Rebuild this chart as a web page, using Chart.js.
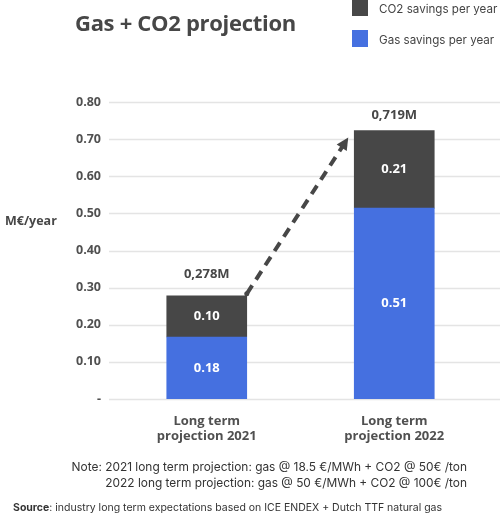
<!DOCTYPE html>
<html>
<head>
<meta charset="utf-8">
<script src="https://cdn.jsdelivr.net/npm/chart.js@4.4.0/dist/chart.umd.min.js"></script>
<style>
  body { margin: 0; background: #fff; }
  #wrap { position: relative; width: 500px; height: 516px; overflow: hidden; font-family: Inter, sans-serif; }
  #chart { position: absolute; left: 0; top: 0; }
  .title { position: absolute; left: 75px; top: 7px; font-family: "Open Sans", sans-serif; font-weight: 700; font-size: 22px; color: #474747; letter-spacing: -0.3px; white-space: nowrap; }
  .leg { position: absolute; left: 352px; width: 16px; height: 17px; }
  .legtxt { position: absolute; left: 379px; font-size: 11.6px; color: #444; white-space: nowrap; line-height: 16px; }
  .ytitle { position: absolute; left: 5px; top: 212px; font-family: "Open Sans", sans-serif; font-weight: 700; font-size: 12.5px; color: #474747; }
  .note { position: absolute; right: 33px; top: 459px; font-size: 11.9px; color: #333; text-align: right; line-height: 16px; white-space: nowrap; }
  .source { position: absolute; left: 13px; top: 501px; font-size: 10.5px; color: #333; white-space: nowrap; }
</style>
</head>
<body>
<div id="wrap">
  <canvas id="chart" width="500" height="516"></canvas>
  <div class="title">Gas + CO2 projection</div>
  <div class="leg" style="top:-1px;background:#474747"></div>
  <div class="legtxt" style="top:1px">CO2 savings per year</div>
  <div class="leg" style="top:30px;background:#4570e0"></div>
  <div class="legtxt" style="top:32px">Gas savings per year</div>
  <div class="ytitle">M€/year</div>
  <div class="note">Note: 2021 long term projection: gas @ 18.5 €/MWh + CO2 @ 50€ /ton<br>2022 long term projection: gas @ 50 €/MWh + CO2 @ 100€ /ton</div>
  <div class="source"><b>Source</b>: industry long term expectations based on ICE ENDEX + Dutch TTF natural gas</div>
</div>
<script>
// data
const categories = [["Long term", "projection 2021"], ["Long term", "projection 2022"]];
const gasValues = [0.167, 0.514];
const co2Values = [0.111, 0.209];
const gasLabels = ["0.18", "0.51"];
const co2Labels = ["0.10", "0.21"];
const totalLabels = ["0,278M", "0,719M"];
const yTicks = [0, 0.1, 0.2, 0.3, 0.4, 0.5, 0.6, 0.7, 0.8];

const BLUE = "#4570e0";
const DARK = "#474747";

// gridlines run from the tick mark to the right edge of the canvas
const gridPlugin = {
    id: "gridLines",
    beforeDatasetsDraw(chart) {
        const ctx = chart.ctx;
        const y = chart.scales.y;
        ctx.save();
        ctx.strokeStyle = "#e4e4e4";
        ctx.lineWidth = 1.5;
        yTicks.forEach(function (v) {
            const py = Math.round(y.getPixelForValue(v)) + 0.5;
            ctx.beginPath();
            ctx.moveTo(chart.chartArea.left - 4, py);
            ctx.lineTo(chart.width, py);
            ctx.stroke();
        });
        ctx.restore();
    }
};

// value labels + dashed arrow
const labelPlugin = {
    id: "barLabels",
    afterDatasetsDraw(chart) {
        const ctx = chart.ctx;
        const gasBars = chart.getDatasetMeta(0).data;
        const co2Bars = chart.getDatasetMeta(1).data;
        ctx.save();
        ctx.textAlign = "center";
        ctx.textBaseline = "middle";
        ctx.font = "700 13px 'Open Sans', sans-serif";
        ctx.fillStyle = "#fff";
        gasBars.forEach(function (b, i) {
            ctx.fillText(gasLabels[i], b.x, (b.y + b.base) / 2);
        });
        co2Bars.forEach(function (b, i) {
            ctx.fillText(co2Labels[i], b.x, (b.y + b.base) / 2);
        });
        const offs = [21, 15];
        ctx.fillStyle = DARK;
        co2Bars.forEach(function (b, i) {
            ctx.fillText(totalLabels[i], b.x, b.y - offs[i]);
        });

        // arrow from top-right of first bar to top-left of second
        const a = co2Bars[0], c = co2Bars[1];
        const x1 = a.x + a.width / 2, y1 = a.y - 2;
        const x2 = c.x - c.width / 2 - 6, y2 = c.y + 7;
        ctx.fillStyle = DARK;
        ctx.beginPath();
        ctx.arc(x1, y1, 2.5, 0, Math.PI * 2);
        ctx.fill();
        const ang = Math.atan2(y2 - y1, x2 - x1);
        ctx.strokeStyle = DARK;
        ctx.lineWidth = 4;
        ctx.setLineDash([10, 7]);
        ctx.beginPath();
        ctx.moveTo(x1, y1);
        ctx.lineTo(x2 - 8 * Math.cos(ang), y2 - 8 * Math.sin(ang));
        ctx.stroke();
        ctx.setLineDash([]);
        ctx.beginPath();
        ctx.moveTo(x2, y2);
        ctx.lineTo(x2 - 12 * Math.cos(ang) + 6 * Math.sin(ang), y2 - 12 * Math.sin(ang) - 6 * Math.cos(ang));
        ctx.lineTo(x2 - 12 * Math.cos(ang) - 6 * Math.sin(ang), y2 - 12 * Math.sin(ang) + 6 * Math.cos(ang));
        ctx.closePath();
        ctx.fill();
        ctx.restore();
    }
};

const ctx = document.getElementById("chart").getContext("2d");
new Chart(ctx, {
    type: "bar",
    data: {
        labels: categories,
        datasets: [
            { label: "Gas savings per year", data: gasValues, backgroundColor: BLUE, stack: "s" },
            { label: "CO2 savings per year", data: co2Values, backgroundColor: DARK, stack: "s" }
        ]
    },
    options: {
        responsive: false,
        animation: false,
        layout: { padding: { top: 102, right: 12, left: 0, bottom: 0 } },
        plugins: { legend: { display: false }, tooltip: { enabled: false } },
        datasets: { bar: { barThickness: 80 } },
        scales: {
            x: {
                stacked: true,
                grid: { display: false, drawTicks: false },
                border: { display: false },
                ticks: {
                    padding: 15,
                    color: "#505050",
                    font: { family: "'Open Sans', sans-serif", weight: "700", size: 13, lineHeight: 1.15 }
                },
                afterFit: function (s) { s.height = 117; }
            },
            y: {
                stacked: true,
                min: 0,
                max: 0.8,
                grid: { display: false, drawTicks: false },
                border: { display: false },
                afterBuildTicks: function (s) { s.ticks = yTicks.map(function (v) { return { value: v }; }); },
                afterFit: function (s) { s.width = 113; },
                ticks: {
                    padding: 12,
                    color: "#505050",
                    font: { family: "'Open Sans', sans-serif", weight: "700", size: 12.5 },
                    callback: function (v) { return v === 0 ? "-" : v.toFixed(2); }
                }
            }
        }
    },
    plugins: [gridPlugin, labelPlugin]
});
</script>
</body>
</html>
